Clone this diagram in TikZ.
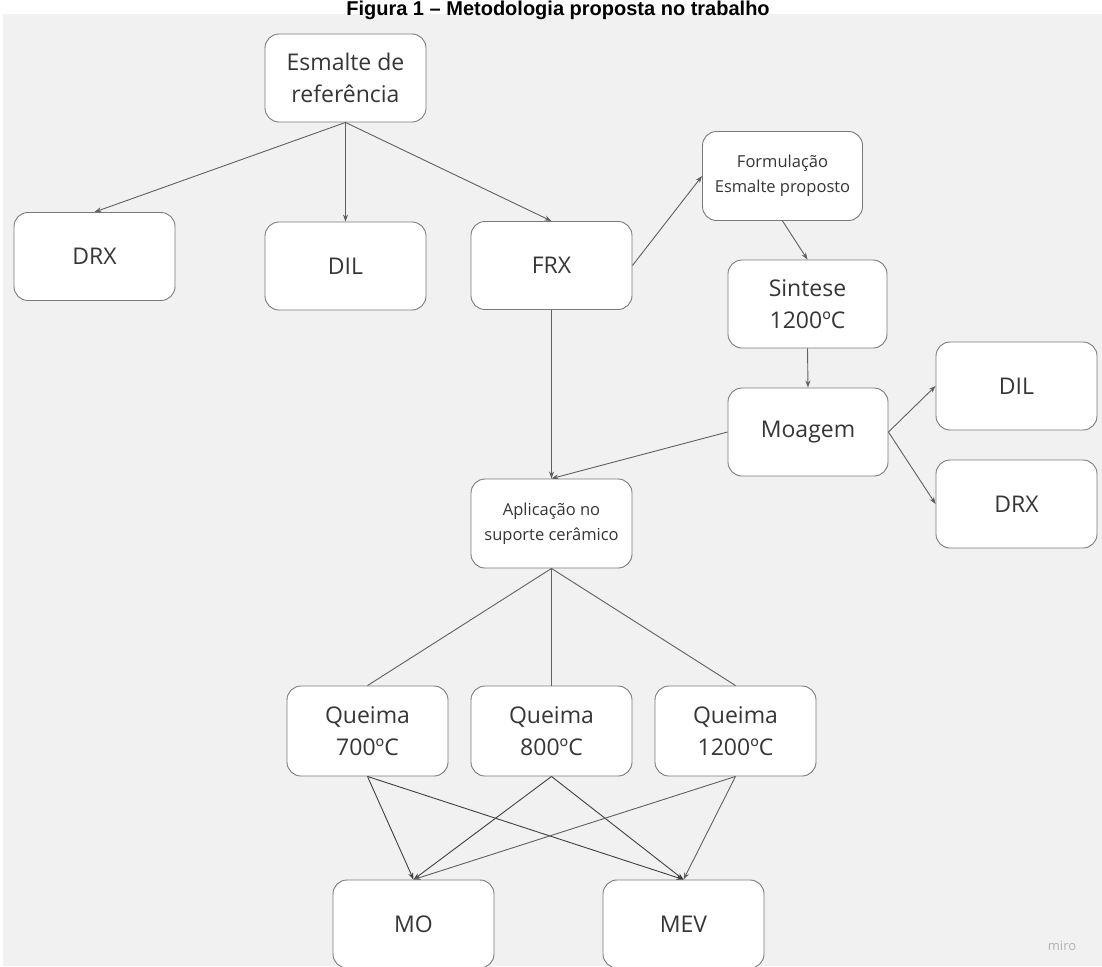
\documentclass[tikz,border=0pt]{standalone}
\usepackage{fontspec}
\setmainfont{Open Sans}
\newfontfamily\titlefont{Liberation Sans}
\usetikzlibrary{arrows.meta}
\definecolor{bggrey}{HTML}{F1F1F1}
\definecolor{boxline}{HTML}{7A7A7A}
\definecolor{txt}{HTML}{363636}
\definecolor{conn}{HTML}{606060}
\tikzset{
  box/.style={draw=boxline, line width=0.9pt, fill=white, rounded corners=14pt,
    minimum width=161pt, minimum height=88pt, align=center, text=txt,
    font=\fontsize{23}{32}\selectfont, inner sep=0pt},
  smallbox/.style={box, font=\fontsize{16.5}{25}\selectfont},
  arr/.style={draw=conn, line width=0.9pt, -{Stealth[length=7pt,width=5pt]}},
  ln/.style={draw=conn, line width=0.9pt},
  darr/.style={arr, draw=black!75}
}
\begin{document}
\begin{tikzpicture}[x=1pt,y=-1pt]
\useasboundingbox (0,0) rectangle (1102,966);
\fill[bggrey] (3,14) rectangle (1102,966);
\node[anchor=base, inner sep=0pt, font=\titlefont\bfseries\fontsize{20}{24}\selectfont] (title) at (558,15.5) {Figura 1 – Metodologia proposta no trabalho};

\node[box] (esm) at (345.5,78) {Esmalte de\\referência};
\node[box] (drxA) at (94.5,256.5) {DRX};
\node[box] (dilA) at (345.5,266) {DIL};
\node[box] (frx) at (551.5,265.5) {FRX};
\node[smallbox, minimum width=160pt, minimum height=89pt] (form) at (782.5,176) {Formulação\\Esmalte proposto};
\node[box, minimum width=159pt] (sint) at (807.5,304) {Sintese\\1200ºC};
\node[box, minimum width=160pt] (moag) at (808,432) {Moagem};
\node[box] (dilB) at (1016.5,386) {DIL};
\node[box] (drxB) at (1016.5,504) {DRX};
\node[smallbox, minimum height=89pt] (apl) at (551.5,523.5) {Aplicação no\\suporte cerâmico};
\node[box, minimum height=90pt] (q7) at (367.5,731) {Queima\\700ºC};
\node[box, minimum height=90pt] (q8) at (551.5,731) {Queima\\800ºC};
\node[box, minimum height=90pt] (q12) at (735.5,731) {Queima\\1200ºC};
\node[box] (mo) at (413.5,924) {MO};
\node[box] (mev) at (683.5,924) {MEV};

\node[text=black!30, font=\fontsize{13}{15}\selectfont] (miro) at (1062,946) {miro};

\draw[arr] (esm.south) -- (drxA.north);
\draw[arr] (esm.south) -- (dilA.north);
\draw[arr] (esm.south) -- (frx.north);
\draw[arr] (frx.east) -- (form.west);
\draw[arr] (form.south) -- (sint.north);
\draw[arr] (sint.south) -- (moag.north);
\draw[arr] (moag.east) -- (dilB.west);
\draw[arr] (moag.east) -- (drxB.west);
\draw[arr] (frx.south) -- (apl.north);
\draw[arr] (moag.west) -- (apl.north);
\draw[ln] (apl.south) -- (q7.north);
\draw[ln] (apl.south) -- (q8.north);
\draw[ln] (apl.south) -- (q12.north);
\draw[darr] (q7.south) -- (mo.north);
\draw[darr] (q7.south) -- (mev.north);
\draw[darr] (q8.south) -- (mo.north);
\draw[darr] (q8.south) -- (mev.north);
\draw[arr] (q12.south) -- (mo.north);
\draw[arr] (q12.south) -- (mev.north);
\end{tikzpicture}
\end{document}
